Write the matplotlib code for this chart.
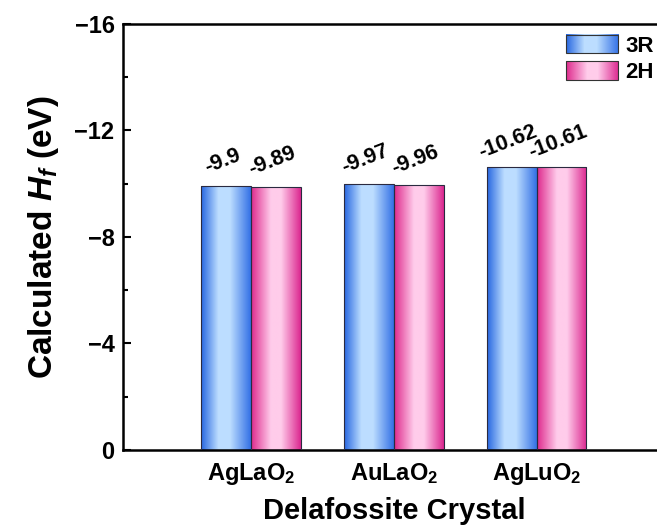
# 形成エネルギーの棒グラフ (3R / 2H)
import numpy as np
import matplotlib
matplotlib.use("Agg")
import matplotlib.pyplot as plt
from matplotlib.colors import LinearSegmentedColormap
from matplotlib.legend_handler import HandlerBase
from matplotlib.image import BboxImage
from matplotlib.transforms import Bbox, TransformedBbox
from matplotlib.patches import Rectangle

# データ
crystals = [r"AgLaO$_2$", r"AuLaO$_2$", r"AgLuO$_2$"]
hf_3r = [-9.9, -9.97, -10.62]
hf_2h = [-9.89, -9.96, -10.61]
labels_3r = ["-9.9", "-9.97", "-10.62"]
labels_2h = ["-9.89", "-9.96", "-10.61"]
series = ["3R", "2H"]

plt.rcParams["font.family"] = "Liberation Sans"
plt.rcParams["font.weight"] = "bold"
plt.rcParams["mathtext.fontset"] = "custom"
plt.rcParams["mathtext.rm"] = "Liberation Sans:bold"
plt.rcParams["mathtext.bf"] = "Liberation Sans:bold"
plt.rcParams["mathtext.it"] = "Liberation Sans:italic:bold"

# グラデーション
blue_cmap = LinearSegmentedColormap.from_list("blue", [
    (0.0, (0.15, 0.40, 0.88)),
    (0.35, (0.74, 0.87, 1.0)),
    (0.58, (0.74, 0.87, 1.0)),
    (1.0, (0.20, 0.44, 0.90))])
pink_cmap = LinearSegmentedColormap.from_list("pink", [
    (0.0, (0.87, 0.16, 0.55)),
    (0.40, (1.0, 0.80, 0.92)),
    (0.60, (1.0, 0.80, 0.92)),
    (1.0, (0.86, 0.15, 0.56))])
grad = np.linspace(0, 1, 256).reshape(1, -1)


class GradHandler(HandlerBase):
    def __init__(self, cmap):
        super().__init__()
        self.cmap = cmap

    def create_artists(self, legend, orig_handle, xdescent, ydescent,
                       width, height, fontsize, trans):
        bb = TransformedBbox(Bbox.from_bounds(-xdescent, -ydescent, width, height), trans)
        img = BboxImage(bb, cmap=self.cmap, interpolation="bilinear")
        img.set_data(grad)
        rect = Rectangle((-xdescent, -ydescent), width, height, facecolor="none",
                         edgecolor="#333333", lw=0.8, transform=trans)
        return [img, rect]


fig = plt.figure(figsize=(6.57, 5.30), dpi=100)
ax = fig.add_axes([0.187, 0.151, 0.825, 0.804])

x = np.arange(1, len(crystals) + 1)
w = 0.35
bars3 = ax.bar(x - w / 2, hf_3r, w, facecolor="none", edgecolor="#2a2a40", lw=0.8, zorder=3)
bars2 = ax.bar(x + w / 2, hf_2h, w, facecolor="none", edgecolor="#2a2a40", lw=0.8, zorder=3)

for bars, cmap in [(bars3, blue_cmap), (bars2, pink_cmap)]:
    for b in bars:
        x0, y0 = b.get_x(), b.get_y()
        im = ax.imshow(grad, cmap=cmap, aspect="auto", interpolation="bilinear",
                       extent=[x0, x0 + b.get_width(), y0, y0 + b.get_height()], zorder=2)
        im.set_clip_path(b)

for bars, labs in [(bars3, labels_3r), (bars2, labels_2h)]:
    for b, t in zip(bars, labs):
        ax.annotate(t, (b.get_x() + b.get_width() / 2, b.get_y() + b.get_height()),
                    xytext=(0, 11), textcoords="offset points", ha="center", va="bottom",
                    rotation=21, rotation_mode="anchor", fontsize=15.5, fontweight="bold")

ax.set_xlim(0.1, 3.9)
ax.set_ylim(0, -16)
ax.set_yticks([0, -4, -8, -12, -16])
ax.set_yticks([-2, -6, -10, -14], minor=True)
ax.set_xticks(x)
ax.set_xticklabels(crystals)
ax.tick_params(axis="both", which="major", direction="in", length=6, width=1.5, labelsize=17)
ax.tick_params(axis="y", which="minor", direction="in", length=3.5, width=1.5)
ax.tick_params(axis="y", which="major", pad=6)
ax.tick_params(axis="x", which="major", length=4, pad=8)
for s in ["left", "top", "bottom"]:
    ax.spines[s].set_linewidth(1.8)
ax.spines["right"].set_visible(False)

ax.set_xlabel("Delafossite Crystal", fontsize=21, fontweight="bold", labelpad=7)
ax.set_ylabel(r"Calculated $H_f$ (eV)", fontsize=24, fontweight="bold", labelpad=10)

h1 = Rectangle((0, 0), 1, 1)
h2 = Rectangle((0, 0), 1, 1)
ax.legend([h1, h2], series, handler_map={h1: GradHandler(blue_cmap), h2: GradHandler(pink_cmap)},
          loc="upper right", bbox_to_anchor=(663 / 657, 1 - 26 / 530),
          bbox_transform=fig.transFigure, frameon=False, fontsize=16,
          handlelength=2.35, handleheight=0.9, handletextpad=0.35, labelspacing=0.2,
          borderaxespad=0)

fig.savefig("out.png", dpi=100)
